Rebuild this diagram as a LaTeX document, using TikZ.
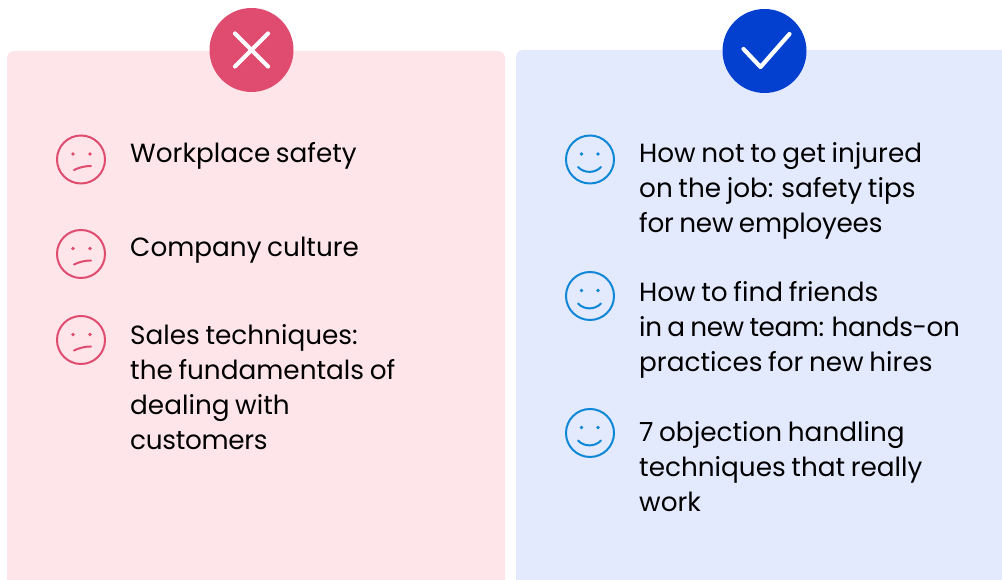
\documentclass[tikz,border=0pt]{standalone}
\usepackage{fontspec}
\setmainfont[WordSpace=0.8]{Poppins}
\definecolor{redpanel}{HTML}{FEE5E9}
\definecolor{bluepanel}{HTML}{E4EAFE}
\definecolor{redmark}{HTML}{DF4C6F}
\definecolor{bluemark}{HTML}{0340CF}
\definecolor{smile}{HTML}{0D87D6}
\tikzset{
  panel/.style={rounded corners=7pt},
  badge/.style={circle,minimum size=84pt,inner sep=0pt},
  markline/.style={draw=white,line width=4.2pt,line cap=round,line join=round},
  face/.style={circle,minimum size=48pt,inner sep=0pt,line width=2pt,draw=#1},
  label/.style={anchor=north west,inner sep=0pt,align=left,text=black,
    font=\fontsize{26.3}{35}\selectfont}
}
\newcommand{\sadface}[2]{%
  \node[face=redmark] (#1) at #2 {};
  \fill[redmark] ($(#1)+(-8,5.5)$) circle (1.9pt) ($(#1)+(9,5.5)$) circle (1.9pt);
  \draw[redmark,line width=2pt,line cap=round] ($(#1)+(-7,-10.5)$) .. controls ($(#1)+(-2,-8)$) and ($(#1)+(4,-6.5)$) .. ($(#1)+(10,-6.5)$);
}
\newcommand{\happyface}[2]{%
  \node[face=smile] (#1) at #2 {};
  \fill[smile] ($(#1)+(-8.5,5.5)$) circle (1.9pt) ($(#1)+(8,5.5)$) circle (1.9pt);
  \draw[smile,line width=2pt,line cap=round] ($(#1)+(-12,-7.5)$) .. controls ($(#1)+(-6,-14)$) and ($(#1)+(5,-14)$) .. ($(#1)+(11,-7.5)$);
}
\usetikzlibrary{calc}
\begin{document}
\begin{tikzpicture}[x=1pt,y=1pt]
\useasboundingbox (0,0) rectangle (1002,580);
\fill[redpanel,panel] (7,-20) rectangle (505,529);
\fill[bluepanel,panel] (516,-20) rectangle (1030,530);
\node[badge,fill=redmark] (no) at (251.5,530) {};
\node[badge,fill=bluemark] (yes) at (764.5,529) {};
\draw[markline] ($(no)+(-16.5,16.5)$) -- ($(no)+(16.5,-16.5)$) ($(no)+(-16.5,-16.5)$) -- ($(no)+(16.5,16.5)$);
\draw[markline] ($(yes)+(-21,2)$) -- ($(yes)+(-4,-16)$) -- ($(yes)+(25,17)$);
\sadface{s1}{(81,420.5)}
\sadface{s2}{(81,326)}
\sadface{s3}{(81,240)}
\happyface{h1}{(590,420.5)}
\happyface{h2}{(590,284)}
\happyface{h3}{(590,147)}
\node[label] (t1) at (130,438) {Workplace safety};
\node[label] (t2) at (130,343) {Company culture};
\node[label] (t3) at (130,256) {Sales techniques:\\the fundamentals of\\dealing with\\{\addfontfeature{LetterSpace=-1.2}customers}};
\node[label] (t4) at (639,438) {How not to get injured\\on the job: safety tips\\{\addfontfeature{LetterSpace=-1}for new employees}};
\node[label] (t5) at (639,299) {How to find friends\\{\addfontfeature{LetterSpace=-1.6}in a new team: hands-on}\\practices for new hires};
\node[label] (t6) at (639,159) {7 objection handling\\techniques that really\\work};
\end{tikzpicture}
\end{document}
